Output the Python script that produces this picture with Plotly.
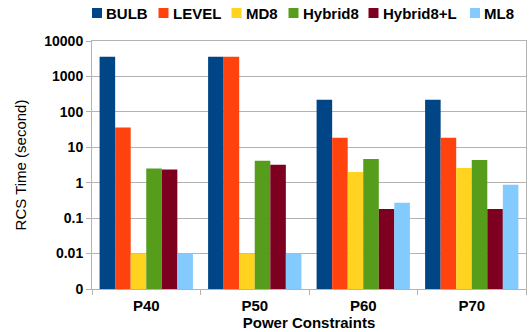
import plotly.graph_objects as go

categories = ["P40", "P50", "P60", "P70"]
series_names = ["BULB", "LEVEL", "MD8", "Hybrid8", "Hybrid8+L", "ML8"]
bulb = [3600, 3600, 218, 218]
level = [36, 3600, 18.5, 18.5]
md8 = [0.01, 0.01, 2.0, 2.6]
hybrid8 = [2.5, 4.2, 4.7, 4.4]
hybrid8_l = [2.35, 3.2, 0.18, 0.18]
ml8 = [0.01, 0.01, 0.27, 0.87]
colors = ["#004586", "#ff420e", "#ffd320", "#579d1c", "#7e0021", "#83caff"]
tick_vals = [0.001, 0.01, 0.1, 1, 10, 100, 1000, 10000]
tick_text = ["0", "0.01", "0.1", "1", "10", "100", "1000", "10000"]

values = [bulb, level, md8, hybrid8, hybrid8_l, ml8]

W, H = 529, 332
# legend layout: left edge (px) of each key square
legend_key_px = [92, 158.5, 231.5, 288.5, 368.5, 470]
key_size = 10
key_top = 8
text_gap = 3

font_family = "Liberation Sans, Arial, sans-serif"

fig = go.Figure()
for name, vals, col in zip(series_names, values, colors):
    fig.add_trace(go.Bar(name=name, x=categories, y=vals,
                         marker=dict(color=col, line=dict(width=0)),
                         showlegend=False))

# legend drawn as keys + labels in the page's top strip
shapes = []
annotations = []
for name, col, kx in zip(series_names, colors, legend_key_px):
    shapes.append(dict(type="rect", xref="paper", yref="paper",
                       x0=(kx - 92) / 434, x1=(kx + key_size - 92) / 434,
                       y0=1 + (41 - key_top - key_size) / 248, y1=1 + (41 - key_top) / 248,
                       fillcolor=col, line=dict(width=0), layer="above"))
    annotations.append(dict(text=f"<b>{name}</b>", xref="paper", yref="paper",
                            x=(kx + key_size + text_gap - 92) / 434, xanchor="left",
                            y=1 + (41 - key_top - key_size / 2) / 248, yanchor="middle",
                            showarrow=False, font=dict(family=font_family, size=15, color="black"),
                            borderpad=0))

fig.update_layout(
    width=W, height=H,
    margin=dict(l=92, r=3, t=41, b=43, autoexpand=False),
    paper_bgcolor="white", plot_bgcolor="white",
    barmode="group", bargap=0.14, bargroupgap=0,
    font=dict(family=font_family, size=15, color="black"),
    showlegend=False,
    shapes=shapes, annotations=annotations,
)
fig.update_yaxes(
    type="log", range=[-3, 4],
    tickvals=tick_vals, ticktext=tick_text,
    tickfont=dict(family=font_family, size=14, color="black", weight="bold"),
    showgrid=True, gridcolor="#b3b3b3", gridwidth=1,
    showline=True, linecolor="#b3b3b3", linewidth=1, mirror=True,
    ticks="outside", ticklen=5, tickcolor="#b3b3b3",
    title=dict(text="RCS Time (second)", font=dict(family=font_family, size=15, color="black"), standoff=14),
    zeroline=False, automargin=False,
)
fig.update_xaxes(
    type="category",
    tickfont=dict(family=font_family, size=15, color="black", weight="bold"),
    showline=True, linecolor="#b3b3b3", linewidth=1, mirror=True,
    ticks="outside", ticklen=5, tickcolor="#b3b3b3", tickson="boundaries",
    ticklabelstandoff=3,
    showgrid=False, automargin=False,
    title=dict(text="Power Constraints", font=dict(family=font_family, size=15, color="black", weight="bold"), standoff=0),
)

fig.write_html("out.html", config={"displayModeBar": False},
               post_script="document.body.style.margin='0';")
